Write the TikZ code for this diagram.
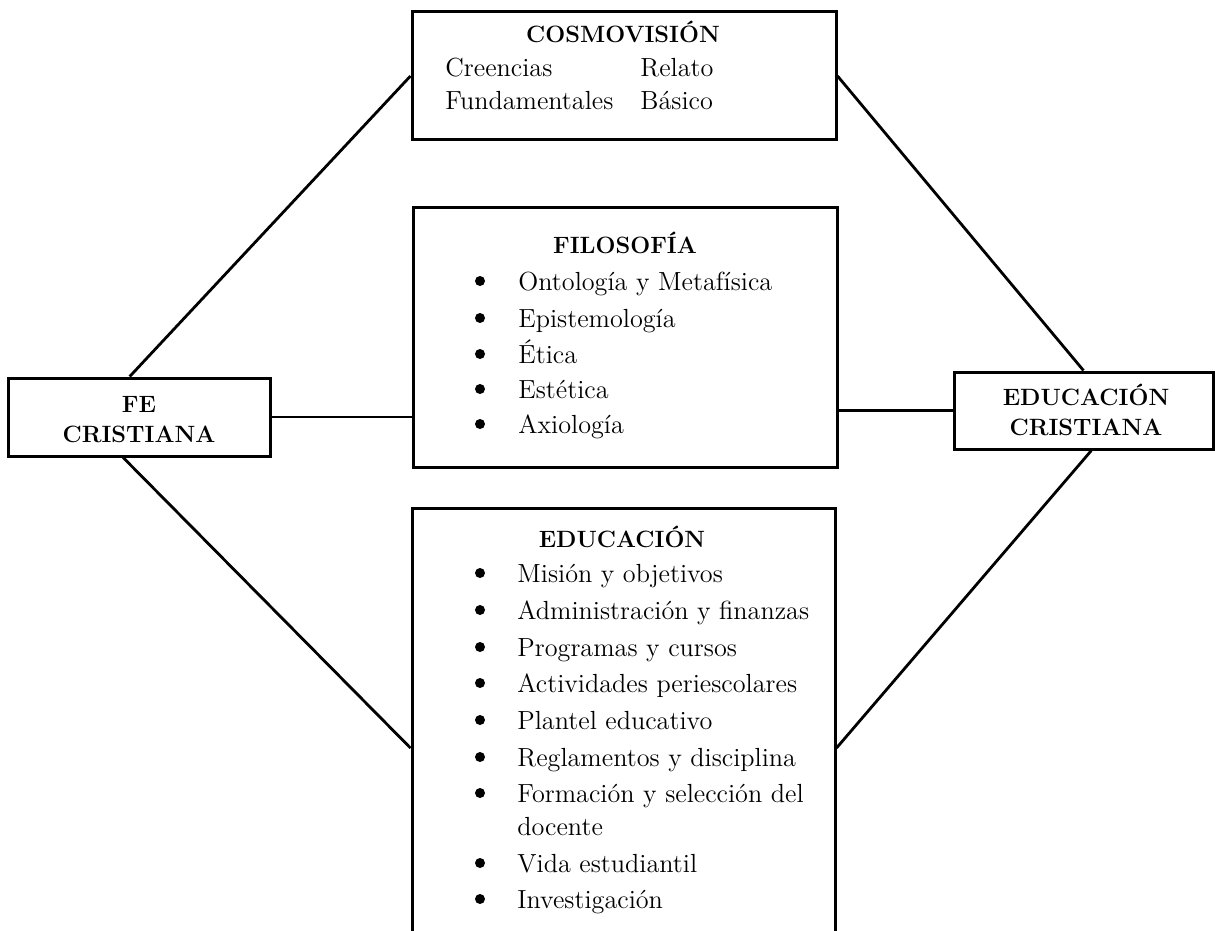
\documentclass[tikz,border=0pt]{standalone}
\usepackage{fontspec}
\usetikzlibrary{calc}
\tikzset{
  boxnode/.style={draw, line width=1.5pt, inner sep=0pt, fill=white},
  conn/.style={line width=1.4pt},
  ttl/.style={anchor=base, inner sep=0pt, font=\fontsize{11.8}{14}\selectfont\bfseries},
  itm/.style={anchor=base west, inner sep=0pt, font=\fontsize{13.1}{15}\selectfont},
  dot/.style={circle, fill=black, inner sep=0pt, minimum size=5pt},
}
\begin{document}
\begin{tikzpicture}[x=0.5pt,y=-0.5pt]
\clip (0,0) rectangle (1215,931);
\fill[white] (0,0) rectangle (1215,931);
% boxes
\node[boxnode, minimum width=212pt, minimum height=64pt] (cosmo) at (624,76) {};
\node[boxnode, minimum width=212pt, minimum height=130pt] (filo) at (625,337) {};
\node[boxnode, minimum width=211.5pt, minimum height=240pt] (edu) at (623.5,748) {};
\node[boxnode, minimum width=131pt, minimum height=39pt] (fe) at (139,417) {};
\node[boxnode, minimum width=129.5pt, minimum height=38.5pt] (ec) at (1083.5,410.5) {};
% connectors
\draw[conn] ($(fe.north west)!0.465!(fe.north east)$) -- (cosmo.west);
\draw[conn] (fe.east) -- (fe.east -| filo.west);
\draw[conn] ($(fe.south west)!0.44!(fe.south east)$) -- (edu.west);
\draw[conn] (cosmo.east) -- (ec.north);
\draw[conn] (ec.west -| filo.east) -- (ec.west);
\draw[conn] ($(ec.south west)!0.53!(ec.south east)$) -- (edu.east);
% FE CRISTIANA
\node[ttl] (fe1) at (139,412) {FE};
\node[ttl] (fe2) at (139,442) {CRISTIANA};
% EDUCACION CRISTIANA
\node[ttl] (ec1) at (1086,405) {EDUCACIÓN};
\node[ttl] (ec2) at (1086,435) {CRISTIANA};
% COSMOVISION
\node[ttl] (ct) at (623,43) {COSMOVISIÓN};
\node[itm] (c1) at (445,77) {Creencias};
\node[itm] (c2) at (640,77) {Relato};
\node[itm] (c3) at (445,110) {Fundamentales};
\node[itm] (c4) at (640,110) {Básico};
% FILOSOFIA
\node[ttl] (ft) at (625,253) {FILOSOFÍA};
\node[dot] (fb1) at (480,281) {}; \node[itm] (f1) at (518,290) {Ontología y Metafísica};
\node[dot] (fb2) at (480,318) {}; \node[itm] (f2) at (518,327) {Epistemología};
\node[dot] (fb3) at (480,354) {}; \node[itm] (f3) at (518,363) {Ética};
\node[dot] (fb4) at (480,389) {}; \node[itm] (f4) at (518,398) {Estética};
\node[dot] (fb5) at (480,424) {}; \node[itm] (f5) at (518,433) {Axiología};
% EDUCACION
\node[ttl] (et) at (622,547) {EDUCACIÓN};
\node[dot] (eb1) at (480,573) {}; \node[itm] (e1) at (517,582) {Misión y objetivos};
\node[dot] (eb2) at (480,610) {}; \node[itm] (e2) at (517,619) {Administración y finanzas};
\node[dot] (eb3) at (480,647) {}; \node[itm] (e3) at (517,656) {Programas y cursos};
\node[dot] (eb4) at (480,683) {}; \node[itm] (e4) at (517,692) {Actividades periescolares};
\node[dot] (eb5) at (480,720) {}; \node[itm] (e5) at (517,729) {Plantel educativo};
\node[dot] (eb6) at (480,757) {}; \node[itm] (e6) at (517,766) {Reglamentos y disciplina};
\node[dot] (eb7) at (480,793) {}; \node[itm] (e7) at (517,802) {Formación y selección del};
\node[itm] (e7b) at (517,835) {docente};
\node[dot] (eb8) at (480,863) {}; \node[itm] (e8) at (517,872) {Vida estudiantil};
\node[dot] (eb9) at (480,899) {}; \node[itm] (e9) at (517,908) {Investigación};
\end{tikzpicture}
\end{document}
